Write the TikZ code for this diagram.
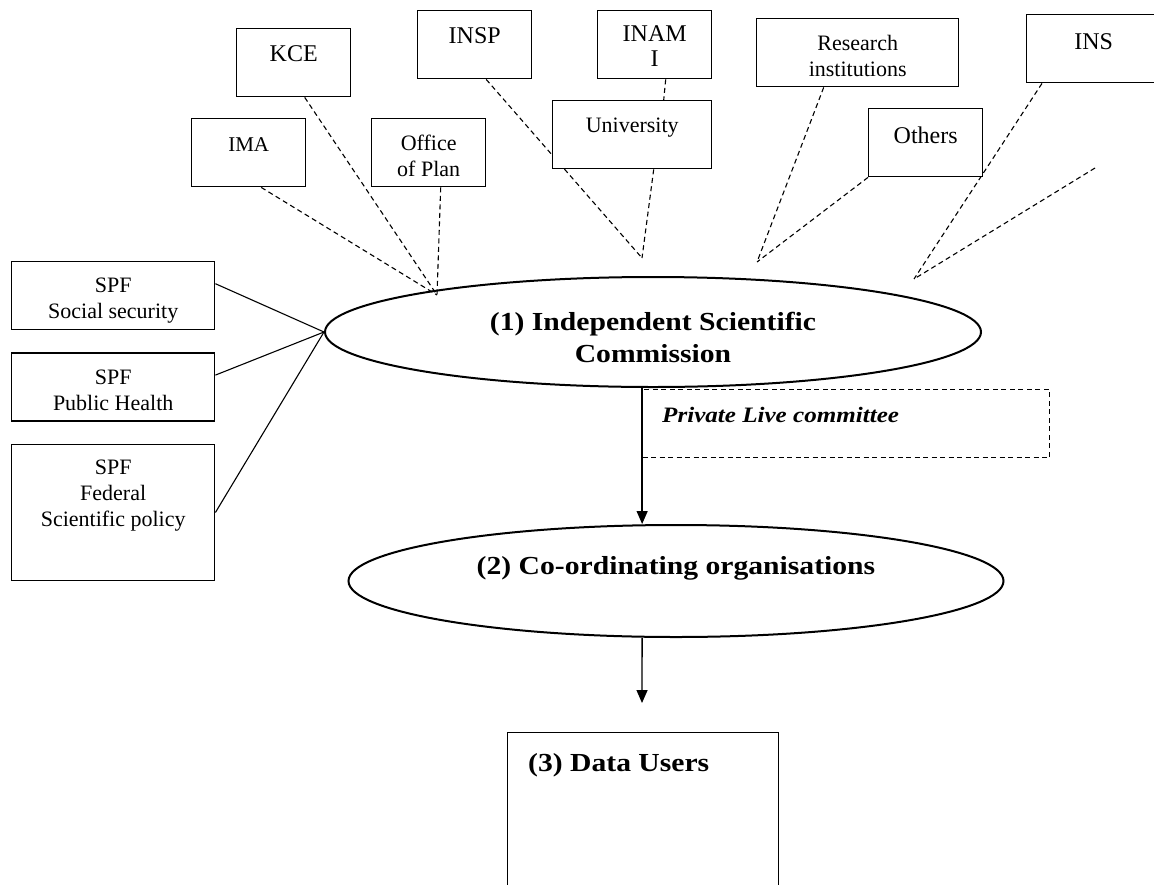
\documentclass[tikz,border=0pt]{standalone}
\usepackage{fontspec}
\setmainfont{Liberation Serif}
\newfontfamily\widefont[FakeStretch=1.14]{Liberation Serif}
\usetikzlibrary{positioning,shapes.geometric,arrows.meta,backgrounds}

\begin{document}
\begin{tikzpicture}[
		x=1pt, y=-1pt,
		node distance=22pt,
		box/.style = {draw, fill=white, line width=1.4pt, inner sep=0pt, anchor=north west, minimum width=114pt, minimum height=68pt},
		tag/.style = {anchor=north, align=center, inner sep=0pt, yshift=-17pt, font=\fontsize{22}{26}\selectfont},
		bigtag/.style = {tag, font=\fontsize{24}{25}\selectfont},
		oval/.style = {draw, ellipse, line width=2pt, inner sep=0pt},
		head/.style = {align=center, inner sep=0pt, font=\widefont\bfseries\fontsize{26}{32}\selectfont},
		link/.style = {dash pattern=on 5pt off 3.5pt, line width=1.1pt},
		feed/.style = {line width=1.1pt},
		flow/.style = {line width=1.3pt, -{Triangle[length=13pt, width=11pt]}}
	]
	\useasboundingbox (0,0) rectangle (1154,884);
	% Bodies on top.
	\node[box, label={[bigtag]north:KCE}] (kce) at (236,28) {};
	\node[box, label={[bigtag]north:INSP}] (insp) at (417,10) {};
	\node[box, label={[bigtag, yshift=2pt]north:{INAM\\I}}] (inami) at (597,10) {};
	\node[box, minimum width=202pt, label={[tag]north:{Research\\institutions}}] (research) at (756,18) {};
	\node[box, minimum width=134pt, label={[bigtag, yshift=-2pt]north:INS}] (ins) at (1026,14) {};
	\node[box, label={[tag, yshift=-2pt, font=\fontsize{21}{26}\selectfont]north:IMA}] (ima) at (191,118) {};
	\node[box, label={[tag]north:{Office\\of Plan}}] (office) at (371,118) {};
	\node[box, minimum width=159pt, label={[tag, yshift=-1pt]north:University}] (univ) at (552,100) {};
	\node[box, label={[bigtag, yshift=-2pt]north:Others}] (others) at (868,108) {};
	% SPF column.
	\node[box, minimum width=203pt, label={[tag]north:{SPF\\Social security}}] (spfsoc) at (11,261) {};
	\node[box, minimum width=203pt, below=of spfsoc, label={[tag]north:{SPF\\Public Health}}] (spfhlth) {};
	\node[box, minimum width=203pt, minimum height=136pt, below=of spfhlth, label={[tag, yshift=1pt]north:{SPF\\Federal\\Scientific policy}}] (spffed) {};
	% Main chain.
	\node[oval, minimum width=656pt, minimum height=110pt,
		label={[head, yshift=-5pt]center:{(1) Independent Scientific\\Commission}}] (isc) at (653,332) {};
	\node[oval, minimum width=655pt, minimum height=112pt,
		label={[head, yshift=12.5pt]center:(2) Co-ordinating organisations}] (coord) at (676,581) {};
	\node[draw, link, anchor=north west, minimum width=407pt, minimum height=68pt, inner sep=0pt,
		label={[anchor=north west, inner sep=0pt, xshift=20pt, yshift=-18pt, font=\widefont\bfseries\itshape\fontsize{22}{26}\selectfont]north west:Private Live committee}] (privacy) at (642,389) {};
	\node[draw, line width=1.4pt, anchor=north west, minimum width=271pt, minimum height=200pt, inner sep=0pt,
		label={[anchor=north west, inner sep=0pt, xshift=21pt, yshift=-21pt, font=\widefont\bfseries\fontsize{26}{30}\selectfont]north west:(3) Data Users}] (users) at (507,732) {};

	\coordinate (hubA) at (437,295);
	\coordinate (hubB) at (642,258);
	\coordinate (hubC) at (757,262);
	\coordinate (hubD) at (914,279);
	\coordinate (loose) at (1095,168);
	\coordinate (usrin) at (642,703);

	\begin{scope}[on background layer]
		\draw[link] ([xshift=12.5pt]ima.south) -- (hubA);
		\draw[link] ([xshift=11pt]kce.south) -- (hubA);
		\draw[link] ([xshift=12pt]office.south) -- (hubA);
		\draw[link] ([xshift=11.5pt]insp.south) -- (hubB);
		\draw[link] ([xshift=21.5pt]univ.south) -- (hubB);
		\draw[link] ([xshift=11pt]inami.south) -- ([xshift=31.5pt]univ.north);
		\draw[link] ([xshift=-34pt]research.south) -- (hubC);
		\draw[link] (others.south west) -- (hubC);
		\draw[link] ([xshift=16pt]ins.south west) -- (hubD);
		\draw[link] (loose) -- (hubD);
		\draw[feed] ([yshift=12pt]spfsoc.east) -- (isc.west);
		\draw[feed] ([yshift=12pt]spfhlth.east) -- (isc.west);
		\draw[feed] (spffed.east) -- (isc.west);
	\end{scope}
	\draw[flow] (isc.-101.3) -- (isc.-101.3 |- coord.north);
	\draw[flow] (isc.-101.3 |- coord.south) -- (usrin);
\end{tikzpicture}
\end{document}
